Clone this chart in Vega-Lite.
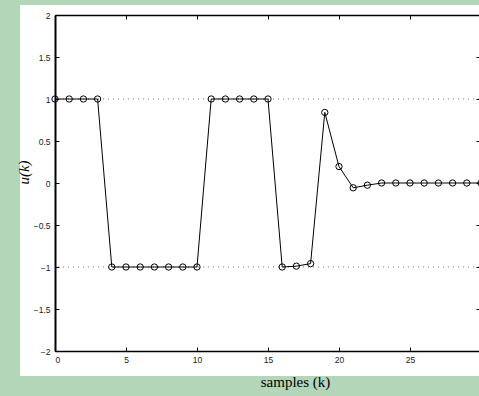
{
  "$schema": "https://vega.github.io/schema/vega-lite/v6.json",
  "width": 424,
  "height": 336,
  "autosize": {"type": "none"},
  "padding": {"left": 55, "top": 15, "right": 0, "bottom": 45},
  "background": "#b3d6b8",
  "config": {
    "view": {"stroke": null},
    "axis": {
      "grid": false,
      "domainColor": "black",
      "tickColor": "black",
      "labelFont": "Liberation Sans",
      "labelFontSize": 8.5,
      "labelColor": "#222222",
      "titleColor": "black",
      "titleFontWeight": "normal"
    }
  },
  "data": {
    "values": [
      {"k": 0, "u": 1}, {"k": 1, "u": 1}, {"k": 2, "u": 1}, {"k": 3, "u": 1},
      {"k": 4, "u": -1}, {"k": 5, "u": -1}, {"k": 6, "u": -1}, {"k": 7, "u": -1},
      {"k": 8, "u": -1}, {"k": 9, "u": -1}, {"k": 10, "u": -1},
      {"k": 11, "u": 1}, {"k": 12, "u": 1}, {"k": 13, "u": 1}, {"k": 14, "u": 1}, {"k": 15, "u": 1},
      {"k": 16, "u": -1}, {"k": 17, "u": -0.99}, {"k": 18, "u": -0.96},
      {"k": 19, "u": 0.84}, {"k": 20, "u": 0.196}, {"k": 21, "u": -0.057}, {"k": 22, "u": -0.026},
      {"k": 23, "u": 0}, {"k": 24, "u": 0}, {"k": 25, "u": 0}, {"k": 26, "u": 0},
      {"k": 27, "u": 0}, {"k": 28, "u": 0}, {"k": 29, "u": 0}, {"k": 30, "u": 0}
    ]
  },
  "layer": [
    {
      "mark": {"type": "rect", "fill": "white", "clip": false, "zindex": 0},
      "encoding": {
        "x": {"datum": -2.46, "type": "quantitative",
              "scale": {"domain": [0, 29.86], "nice": false, "zero": false},
              "axis": {"orient": "top", "labels": false, "title": null, "tickSize": -4, "zindex": 2,
                       "domainWidth": 1.5, "values": [0, 5, 10, 15, 20, 25, 30]}},
        "x2": {"datum": 31},
        "y": {"datum": 2.119, "type": "quantitative",
              "scale": {"domain": [-2, 2], "nice": false, "zero": false},
              "axis": {"orient": "right", "labels": false, "title": null, "domain": false, "zindex": 2,
                       "tickSize": -3, "values": [-2, -1.5, -1, -0.5, 0, 0.5, 1, 1.5, 2]}},
        "y2": {"datum": -2.298}
      }
    },
    {
      "data": {"values": [{"level": 1}, {"level": -1}]},
      "mark": {"type": "rule", "color": "#777777", "strokeWidth": 1, "strokeDash": [1, 4], "zindex": 1},
      "encoding": {
        "y": {"field": "level", "type": "quantitative",
              "scale": {"domain": [-2, 2], "nice": false, "zero": false}, "axis": null}
      }
    },
    {
      "mark": {"type": "line", "color": "black", "strokeWidth": 1, "zindex": 1},
      "encoding": {
        "x": {"field": "k", "type": "quantitative",
              "scale": {"domain": [0, 29.86], "nice": false, "zero": false},
              "axis": {"orient": "bottom", "values": [0, 5, 10, 15, 20, 25, 30], "tickSize": -4, "zindex": 2,
                       "domainWidth": 1.5, "labelPadding": 8, "format": "~g",
                       "title": "samples (k)", "titleFont": "Liberation Serif", "titleFontSize": 15,
                       "titleX": 240, "titleY": 35, "titleBaseline": "alphabetic", "titleAlign": "center"}},
        "y": {"field": "u", "type": "quantitative",
              "scale": {"domain": [-2, 2], "nice": false, "zero": false},
              "axis": {"orient": "left", "values": [-2, -1.5, -1, -0.5, 0, 0.5, 1, 1.5, 2], "tickSize": -4, "zindex": 2,
                       "domainWidth": 2, "labelPadding": 9, "format": "~g",
                       "title": "u(k)", "titleFont": "Liberation Serif", "titleFontStyle": "italic",
                       "titleFontSize": 15, "titleAngle": -90, "titleX": -32, "titleY": 157,
                       "titleBaseline": "middle", "titleAlign": "center"}}
      }
    },
    {
      "mark": {"type": "point", "shape": "circle", "filled": false, "stroke": "black", "strokeWidth": 1, "size": 40, "opacity": 1, "zindex": 1},
      "encoding": {
        "x": {"field": "k", "type": "quantitative",
              "scale": {"domain": [0, 29.86], "nice": false, "zero": false}, "axis": null},
        "y": {"field": "u", "type": "quantitative",
              "scale": {"domain": [-2, 2], "nice": false, "zero": false}, "axis": null}
      }
    }
  ],
  "resolve": {"axis": {"x": "independent", "y": "independent"}}
}
